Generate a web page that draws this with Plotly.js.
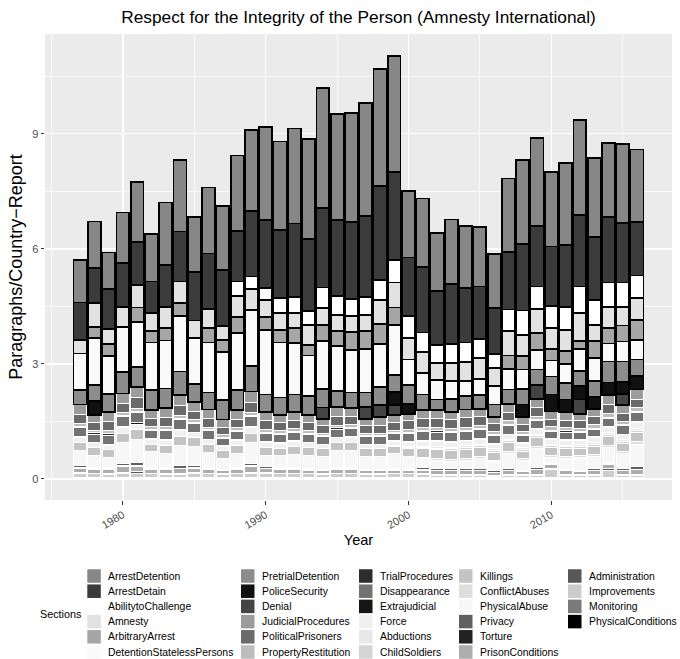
<!DOCTYPE html>
<html>
<head>
<meta charset="utf-8">
<script src="https://cdn.plot.ly/plotly-3.0.1.min.js"></script>
<style>
  html, body { margin: 0; padding: 0; background: #ffffff; }
  #chart { width: 680px; height: 659px; }
</style>
</head>
<body>
<div id="chart"></div>
<script>
// Report years
const years = [1977,1978,1979,1980,1981,1982,1983,1984,1985,1986,1987,1988,1989,1990,1991,1992,1993,1994,1995,1996,
               1997,1998,1999,2000,2001,2002,2003,2004,2005,2006,2007,2008,2009,2010,2011,2012,2013,2014,2015,2016];

// Section names, in legend order (first one is stacked on top)
const sections = ["ArrestDetention","ArrestDetain","AbilitytoChallenge","Amnesty","ArbitraryArrest","DetentionStatelessPersons",
                  "PretrialDetention","PoliceSecurity","Denial","JudicialProcedures","PoliticalPrisoners","PropertyRestitution",
                  "TrialProcedures","Disappearance","Extrajudicial","Force","Abductions","ChildSoldiers",
                  "Killings","ConflictAbuses","PhysicalAbuse","Privacy","Torture","PrisonConditions",
                  "Administration","Improvements","Monitoring","PhysicalConditions"];

const sectionColors = ["#878787","#3b3b3b","#ffffff","#e2e2e2","#a6a6a6","#fafafa",
                       "#8c8c8c","#101010","#444444","#9c9c9c","#6a6a6a","#bdbdbd",
                       "#2d2d2d","#737373","#161616","#f0f0f0","#e8e8e8","#d4d4d4",
                       "#c4c4c4","#dedede","#f7f7f7","#606060","#222222","#adadad",
                       "#575757","#cccccc","#7a7a7a","#000000"];

// Paragraphs per country-report, one array per section (1977-2016)
const arrestDetention = [1.11,1.21,0.95,1.32,1.56,1.23,1.64,1.86,1.43,1.72,1.67,1.96,2.10,2.42,2.31,2.48,2.61,3.13,2.77,2.85,
                         2.94,3.05,3.02,1.74,1.78,1.51,1.68,1.63,1.54,1.42,1.91,2.19,2.28,1.94,2.13,2.48,2.06,1.93,2.06,1.89];
const arrestDetain = [0.98,0.91,1.04,1.15,1.12,0.83,1.09,1.30,1.27,1.45,1.47,1.32,1.71,1.77,1.77,1.91,1.87,2.07,1.99,2.00,
                      2.11,2.45,2.29,1.52,1.71,1.41,1.57,1.41,1.37,1.20,1.50,1.73,1.58,1.56,1.62,1.86,1.65,1.70,1.55,1.40];
const abilityToChallenge = [0,0,0,0,0,0,0,0,0,0,0,0.39,0.33,0.31,0.39,0.42,0.36,0.53,0.48,0.45,
                            0.47,0.52,0.59,0.58,0.52,0.46,0.48,0.52,0.49,0.35,0.57,0.63,0.59,0.57,0.60,0.70,0.64,0.63,0.63,0.59];
const amnesty = [0.35,0.63,0.40,0.52,0.59,0.46,0.55,0.56,0.45,0.49,0.36,0.54,0.54,0.45,0.44,0.39,0.52,0.44,0.43,0.41,
                 0.43,0.63,0.65,0.56,0.53,0.46,0.48,0.49,0.56,0.47,0.63,0.56,0.62,0.55,0.55,0.72,0.43,0.56,0.49,0.56];
const arbitraryArrest = [0,0.29,0.30,0,0.37,0.30,0.32,0.35,0,0.38,0.32,0.41,0,0.33,0.33,0.39,0.28,0.43,0.39,0.46,
                         0.46,0.52,0.45,0,0,0,0,0,0,0,0.36,0.35,0.44,0.29,0.34,0.22,0.43,0.40,0.42,0.52];
const detentionStatelessPersons = [0.96,1.23,1.00,1.18,1.18,1.24,1.25,1.44,1.21,1.31,1.24,1.49,1.47,1.69,1.44,1.35,1.06,1.24,1.17,1.12,
                                   1.14,1.13,1.31,0.67,0.57,0.50,0.47,0.38,0.41,0.49,0.53,0.51,0.52,0.42,0.49,0.56,0.61,0.47,0.52,0.52];
const pretrialDetention = [0.37,0.41,0.47,0.55,0.52,0.52,0.51,0.62,0.47,0.44,0.51,0.53,0.66,0.45,0.45,0.46,0.49,0.49,0.42,0.40,
                           0.38,0.47,0.45,0.48,0.41,0.28,0.34,0.36,0.36,0.33,0.37,0.40,0.41,0.47,0.43,0.39,0.41,0.55,0.54,0.43];
const policeSecurity = [0,0.36,0,0,0,0,0,0,0,0,0,0,0,0,0,0,0,0,0,0,
                        0,0,0.34,0.26,0,0,0,0,0,0,0,0.33,0,0.44,0.33,0.36,0.31,0.33,0.30,0.35];
const denial = [0,0,0,0,0,0,0,0,0,0,0,0,0,0,0,0,0,0.29,0,0,
                0.30,0.31,0.25,0,0,0,0,0,0,0,0,0,0.35,0,0,0.37,0,0,0.30,0];
const judicialProcedures = [0.25,0.19,0.24,0.27,0.29,0.23,0.25,0.27,0.24,0.23,0.21,0.25,0.29,0.23,0.21,0.22,0.21,0.19,0.24,0.23,
                            0.19,0.21,0.19,0.19,0.21,0.21,0.19,0.21,0.21,0.17,0.23,0.19,0.24,0.21,0.21,0.19,0.21,0.24,0.21,0.25];
const politicalPrisoners = [0.24,0.21,0.25,0.23,0.27,0.21,0.24,0.25,0.21,0.23,0.19,0.21,0.25,0.23,0.21,0.21,0.21,0.19,0.23,0.21,
                            0.19,0.21,0.21,0.23,0.24,0.25,0.24,0.25,0.23,0.21,0.21,0.19,0.21,0.19,0.19,0.19,0.21,0.23,0.21,0.23];
const propertyRestitution = [0.08,0.07,0.07,0.08,0.07,0.07,0.07,0.08,0.07,0.07,0.07,0.07,0.08,0.07,0.07,0.07,0.07,0.07,0.07,0.07,
                             0.07,0.07,0.07,0.07,0.08,0.08,0.08,0.08,0.08,0.08,0.09,0.08,0.09,0.09,0.09,0.09,0.09,0.10,0.09,0.10];
const trialProcedures = [0.03,0.03,0.04,0.03,0.04,0.03,0.03,0.04,0.03,0.03,0.03,0.03,0.04,0.03,0.03,0.03,0.03,0.02,0.03,0.03,
                         0.02,0.02,0.02,0.02,0.03,0.03,0.03,0.03,0.03,0.02,0.03,0.02,0.03,0.03,0.03,0.02,0.03,0.03,0.03,0.03];
const disappearance = [0.23,0.21,0.23,0.25,0.27,0.21,0.24,0.25,0.23,0.21,0.19,0.21,0.25,0.21,0.21,0.21,0.19,0.19,0.21,0.21,
                       0.19,0.19,0.19,0.21,0.23,0.23,0.23,0.23,0.23,0.21,0.23,0.19,0.21,0.19,0.19,0.19,0.19,0.21,0.21,0.23];
const extrajudicial = [0.03,0.02,0.03,0.03,0.03,0.02,0.03,0.03,0.02,0.02,0.02,0.02,0.03,0.02,0.02,0.02,0.02,0.02,0.02,0.02,
                       0.02,0.02,0.02,0.02,0.02,0.02,0.02,0.02,0.02,0.02,0.02,0.02,0.02,0.02,0.02,0.02,0.02,0.02,0.02,0.02];
const force = [0.13,0.13,0.11,0.15,0.15,0.13,0.13,0.15,0.13,0.13,0.11,0.13,0.15,0.13,0.13,0.13,0.13,0.11,0.13,0.13,
               0.11,0.11,0.11,0.11,0.13,0.13,0.13,0.13,0.13,0.11,0.13,0.11,0.13,0.13,0.13,0.11,0.13,0.15,0.13,0.15];
const abductions = [0,0,0,0,0,0,0,0,0,0,0,0,0,0,0,0,0,0,0,0,
                    0,0,0.02,0.03,0.03,0.04,0.04,0.04,0.04,0.04,0.03,0.04,0.03,0.04,0.04,0.04,0.04,0.05,0.04,0.05];
const childSoldiers = [0,0,0,0,0,0,0,0,0,0,0,0,0,0,0,0,0,0,0,0,
                       0,0,0,0.02,0.03,0.04,0.05,0.05,0.05,0.05,0.04,0.05,0.05,0.05,0.05,0.05,0.06,0.05,0.05,0.06];
const killings = [0.21,0.19,0.21,0.23,0.24,0.19,0.21,0.23,0.23,0.21,0.19,0.21,0.24,0.21,0.19,0.21,0.19,0.19,0.21,0.21,
                  0.19,0.19,0.19,0.21,0.23,0.23,0.23,0.23,0.23,0.21,0.23,0.19,0.23,0.21,0.21,0.19,0.21,0.23,0.21,0.24];
const conflictAbuses = [0,0,0,0,0,0,0,0,0,0,0,0,0,0,0,0,0,0,0,0,
                        0,0,0,0,0.03,0.04,0.05,0.05,0.05,0.04,0.05,0.04,0.05,0.05,0.05,0.06,0.05,0.06,0.05,0.06];
const physicalAbuse = [0.39,0.33,0.25,0.55,0.62,0.42,0.34,0.53,0.49,0.37,0.29,0.35,0.54,0.29,0.31,0.33,0.35,0.34,0.42,0.43,
                       0.34,0.34,0.38,0.32,0.24,0.22,0.18,0.22,0.26,0.24,0.40,0.26,0.50,0.14,0.28,0.32,0.32,0.37,0.40,0.59];
const privacy = [0.05,0.03,0.05,0.07,0.07,0.03,0.05,0.07,0.05,0.05,0.03,0.05,0.07,0.05,0.03,0.05,0.03,0.03,0.05,0.05,
                 0.03,0.03,0.03,0.03,0.05,0.05,0.05,0.05,0.05,0.03,0.05,0.03,0.05,0.03,0.03,0.03,0.05,0.05,0.05,0.07];
const torture = [0.02,0.01,0.02,0.02,0.02,0.01,0.02,0.02,0.02,0.01,0.01,0.01,0.02,0.01,0.01,0.01,0.01,0.01,0.01,0.01,
                 0.01,0.01,0.01,0.01,0.01,0.01,0.01,0.01,0.01,0.01,0.01,0.01,0.01,0.01,0.01,0.01,0.01,0.01,0.01,0.01];
const prisonConditions = [0.12,0.10,0.10,0.14,0.14,0.10,0.10,0.12,0.12,0.10,0.08,0.10,0.14,0.10,0.10,0.10,0.08,0.08,0.10,0.10,
                          0.08,0.08,0.08,0.08,0.10,0.10,0.10,0.10,0.10,0.08,0.10,0.08,0.12,0.10,0.10,0.08,0.10,0.12,0.10,0.12];
const administration = [0.03,0.02,0.03,0.03,0.04,0.02,0.03,0.03,0.03,0.02,0.02,0.02,0.03,0.02,0.02,0.02,0.02,0.02,0.02,0.02,
                        0.02,0.02,0.02,0.02,0.02,0.02,0.02,0.02,0.02,0.02,0.02,0.02,0.03,0.02,0.02,0.02,0.02,0.03,0.02,0.03];
const improvements = [0.10,0.10,0.08,0.12,0.12,0.10,0.08,0.08,0.10,0.10,0.08,0.10,0.12,0.12,0.10,0.10,0.10,0.08,0.10,0.10,
                      0.08,0.08,0.10,0.10,0.08,0.06,0.06,0.06,0.06,0.04,0.06,0.06,0.06,0.22,0.06,0.06,0.06,0.20,0.06,0.06];
const monitoring = [0.03,0.03,0.03,0.03,0.03,0.03,0.03,0.03,0.03,0.03,0.03,0.03,0.03,0.03,0.03,0.03,0.03,0.03,0.03,0.03,
                    0.03,0.03,0.03,0.03,0.03,0.03,0.03,0.03,0.03,0.03,0.03,0.03,0.03,0.03,0.03,0.03,0.03,0.03,0.03,0.03];
const physicalConditions = [0,0,0,0,0,0,0,0,0,0,0,0,0,0,0,0,0,0,0,0,
                            0,0,0,0,0,0,0,0,0,0,0,0,0,0,0,0,0,0,0,0];

const sectionValues = [arrestDetention, arrestDetain, abilityToChallenge, amnesty, arbitraryArrest, detentionStatelessPersons,
                       pretrialDetention, policeSecurity, denial, judicialProcedures, politicalPrisoners, propertyRestitution,
                       trialProcedures, disappearance, extrajudicial, force, abductions, childSoldiers,
                       killings, conflictAbuses, physicalAbuse, privacy, torture, prisonConditions,
                       administration, improvements, monitoring, physicalConditions];

// Arrest & detention sections get a black outline, the rest a thin white one
const outlinedCount = 9;

const xTicks = [1980, 1990, 2000, 2010];
const yTicks = [0, 3, 6, 9];

// Bars stack bottom-up in trace order, so add the last section first
const traces = [];
for (let i = sections.length - 1; i >= 0; i--) {
  const outlined = i < outlinedCount;
  traces.push({
    type: "bar",
    name: sections[i],
    x: years,
    y: sectionValues[i].map(v => (v === 0 ? null : v)),
    width: 0.9,
    marker: {
      color: sectionColors[i],
      line: outlined ? { color: "#000000", width: 1.7 } : { color: "#ffffff", width: 1.0 }
    },
    showlegend: false,
    hovertemplate: "%{x}<br>" + sections[i] + ": %{y}<extra></extra>"
  });
}

// Plot-area geometry in pixels (used to place the hand-built legend)
const W = 680, H = 659;
const M = { l: 45, r: 8, t: 34, b: 159 };
const plotW = W - M.l - M.r, plotH = H - M.t - M.b;
const px2x = px => (px - M.l) / plotW;
const py2y = py => (H - M.b - py) / plotH;

// Legend: five columns, six rows, filled column by column
const colSwatchX = [87.3, 241, 359, 459, 568];
const rowY = [576, 591.2, 606.4, 621.6, 636.8, 652];
const sw = 13.5;
const shapes = [];
const annotations = [];
sections.forEach((name, k) => {
  const c = Math.floor(k / 6), r = k % 6;
  const x0 = colSwatchX[c], yc = rowY[r];
  shapes.push({
    type: "rect", xref: "paper", yref: "paper",
    x0: px2x(x0), x1: px2x(x0 + sw), y0: py2y(yc + sw / 2), y1: py2y(yc - sw / 2),
    fillcolor: sectionColors[k], line: { width: 0 }, layer: "above"
  });
  annotations.push({
    xref: "paper", yref: "paper", x: px2x(x0 + sw + 5.5), y: py2y(yc),
    xanchor: "left", yanchor: "middle", showarrow: false,
    text: name, font: { size: 10.4, color: "#000000" }
  });
});
annotations.push({
  xref: "paper", yref: "paper", x: px2x(38), y: py2y(614),
  xanchor: "left", yanchor: "middle", showarrow: false,
  text: "Sections", font: { size: 10.8, color: "#000000" }
});

const layout = {
  width: W, height: H,
  margin: M,
  paper_bgcolor: "#ffffff",
  plot_bgcolor: "#ebebeb",
  font: { family: "Liberation Sans, Arial, sans-serif", color: "#000000" },
  barmode: "stack",
  bargap: 0,
  showlegend: false,
  title: {
    text: "Respect for the Integrity of the Person (Amnesty International)",
    font: { size: 17.3, color: "#000000" },
    x: 358.5 / W, xref: "container", xanchor: "center",
    y: 1 - 17 / H, yref: "container", yanchor: "middle"
  },
  xaxis: {
    range: [1974.55, 2018.45],
    tickvals: xTicks, ticktext: xTicks.map(String),
    tickangle: -30,
    ticks: "outside", ticklen: 3.5, tickwidth: 1.1, tickcolor: "#333333",
    tickfont: { size: 11, color: "#4d4d4d" },
    showgrid: true, gridcolor: "#ffffff", gridwidth: 1.5,
    minor: { tickvals: [1975, 1985, 1995, 2005, 2015], showgrid: true, gridcolor: "#ffffff", gridwidth: 0.75, ticks: "" },
    zeroline: false, showline: false,
    title: { text: "Year", font: { size: 14.5, color: "#000000" }, standoff: 4 }
  },
  yaxis: {
    range: [-0.55, 11.6],
    tickvals: yTicks, ticktext: yTicks.map(String),
    ticks: "outside", ticklen: 3.5, tickwidth: 1.1, tickcolor: "#333333",
    tickfont: { size: 11, color: "#4d4d4d" },
    showgrid: true, gridcolor: "#ffffff", gridwidth: 1.5,
    minor: { tickvals: [1.5, 4.5, 7.5, 10.5], showgrid: true, gridcolor: "#ffffff", gridwidth: 0.75, ticks: "" },
    zeroline: false, showline: false,
    title: { text: "Paragraphs/Country\u2212Report", font: { size: 18, color: "#000000" }, standoff: 4 }
  },
  shapes: shapes,
  annotations: annotations
};

Plotly.newPlot("chart", traces, layout, { displayModeBar: false, staticPlot: true });
</script>
</body>
</html>
